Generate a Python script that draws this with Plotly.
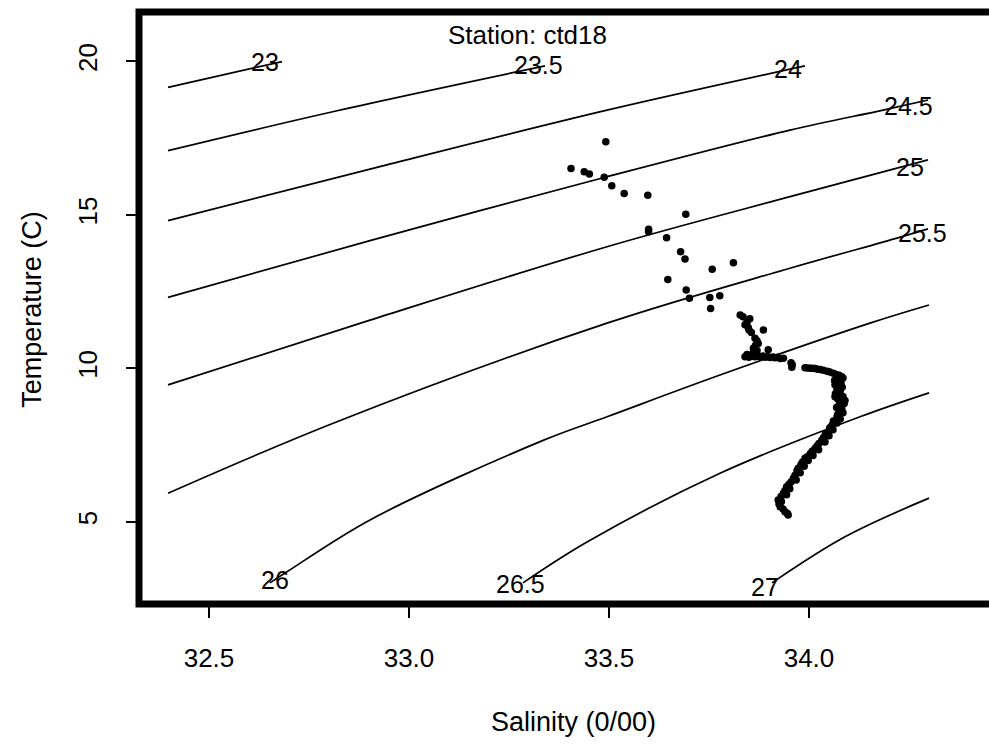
import plotly.graph_objects as go

# isopycnal lines (sigma-t)
levels = ["23", "23.5", "24", "24.5", "25", "25.5", "26", "26.5", "27"]
iso_s = [
    [32.3975, 32.6825],
    [32.3975, 32.82, 33.34],
    [32.3975, 32.9025, 33.495, 33.99],
    [32.3975, 32.9025, 33.495, 33.9525, 34.185, 34.2975],
    [32.3975, 32.9025, 33.495, 33.9525, 34.2975],
    [32.3975, 32.82, 33.495, 33.9525, 34.22, 34.2975],
    [32.6525, 32.695, 32.9025, 33.3368, 33.495, 33.7775, 34.1525, 34.3],
    [33.285, 33.445, 33.7775, 34.1275, 34.3],
    [33.9075, 34.09, 34.3],
]
iso_t = [
    [19.15, 19.99],
    [17.09, 18.39, 19.85],
    [14.81, 16.49, 18.41, 19.85],
    [12.31, 14.16, 16.24, 17.76, 18.41, 18.74],
    [9.46, 11.57, 13.96, 15.59, 16.79],
    [5.93, 8.26, 11.47, 13.26, 14.24, 14.54],
    [3.01, 3.37, 5.06, 7.66, 8.42, 9.78, 11.47, 12.06],
    [3.01, 4.34, 6.58, 8.42, 9.20],
    [3.01, 4.51, 5.77],
]
# where each contour label sits (salinity, temperature)
label_s = [32.64, 33.3225, 33.9475, 34.2475, 34.2525, 34.2825, 32.665, 33.2775, 33.89]
label_t = [19.98, 19.88, 19.75, 18.54, 16.56, 14.41, 3.11, 2.98, 2.88]

# CTD station samples
salinity = [
    33.492, 33.405, 33.438, 33.451, 33.488, 33.507, 33.538, 33.597, 33.692, 33.599,
    33.599, 33.644, 33.679, 33.690, 33.811, 33.758, 33.647, 33.693, 33.701, 33.752,
    33.777, 33.754,
    33.828, 33.835, 33.852, 33.845, 33.840, 33.848, 33.850, 33.856, 33.886, 33.865,
    33.870, 33.873, 33.866, 33.861, 33.898, 33.870, 33.860, 33.845, 33.840, 33.850,
    33.858, 33.865, 33.872, 33.878, 33.885, 33.890, 33.897, 33.903, 33.910, 33.915,
    33.921, 33.928, 33.936, 33.955, 33.958, 33.957, 33.990, 33.996, 34.003, 34.009,
    34.015, 34.022, 34.028, 34.036, 34.045, 34.052, 34.061, 34.068, 34.075, 34.081,
    34.085,
    34.070, 34.078, 34.064, 34.072, 34.080, 34.065, 34.073, 34.083, 34.070, 34.078,
    34.073, 34.066, 34.076, 34.085, 34.065, 34.072, 34.090, 34.080, 34.088, 34.075,
    34.069, 34.082, 34.077, 34.085, 34.072, 34.070, 34.078, 34.061, 34.070, 34.058,
    34.052, 34.060, 34.048, 34.041, 34.050, 34.036, 34.032, 34.040, 34.025, 34.020,
    34.015, 34.024, 34.008, 34.003, 34.010, 33.996, 33.990, 33.998, 33.984, 33.980,
    33.988, 33.973, 33.970, 33.978, 33.965, 33.961, 33.968, 33.955, 33.950, 33.944,
    33.952, 33.940, 33.936, 33.944, 33.930, 33.923, 33.931, 33.925, 33.928, 33.935,
    33.940, 33.946, 33.948,
]
temperature = [
    17.38, 16.51, 16.40, 16.33, 16.22, 15.95, 15.69, 15.64, 15.02, 14.53,
    14.45, 14.25, 13.80, 13.56, 13.44, 13.23, 12.89, 12.55, 12.28, 12.31,
    12.36, 11.95,
    11.74, 11.68, 11.61, 11.50, 11.42, 11.33, 11.25, 11.17, 11.25, 10.98,
    10.90, 10.81, 10.74, 10.65, 10.60, 10.58, 10.50, 10.45, 10.38, 10.36,
    10.40, 10.38, 10.42, 10.37, 10.40, 10.36, 10.38, 10.35, 10.37, 10.34,
    10.36, 10.32, 10.33, 10.18, 10.12, 10.03, 10.02, 10.01, 10.00, 10.00,
    9.99, 9.97, 9.96, 9.94, 9.90, 9.88, 9.84, 9.80, 9.77, 9.73,
    9.68,
    9.70, 9.64, 9.60, 9.55, 9.52, 9.46, 9.40, 9.38, 9.32, 9.26,
    9.24, 9.17, 9.12, 9.08, 9.07, 9.00, 8.95, 8.91, 8.85, 8.80,
    8.72, 8.68, 8.60, 8.55, 8.50, 8.42, 8.35, 8.28, 8.22, 8.15,
    8.06, 8.00, 7.93, 7.85, 7.80, 7.74, 7.66, 7.60, 7.55, 7.47,
    7.39, 7.35, 7.30, 7.22, 7.16, 7.12, 7.07, 7.00, 6.95, 6.87,
    6.81, 6.74, 6.66, 6.60, 6.52, 6.42, 6.36, 6.30, 6.22, 6.14,
    6.08, 6.02, 5.93, 5.88, 5.82, 5.71, 5.66, 5.58, 5.49, 5.42,
    5.33, 5.27, 5.22,
]

x_ticks = [32.5, 33.0, 33.5, 34.0]
y_ticks = [5, 10, 15, 20]

FONT = "Liberation Sans, Arial, Helvetica, sans-serif"

fig = go.Figure()
for s_vals, t_vals in zip(iso_s, iso_t):
    fig.add_trace(go.Scatter(
        x=s_vals, y=t_vals, mode="lines",
        line=dict(color="black", width=1.7, shape="spline", smoothing=1.0),
        hoverinfo="skip", showlegend=False,
    ))

fig.add_trace(go.Scatter(
    x=salinity, y=temperature, mode="markers",
    marker=dict(color="black", size=7.5),
    showlegend=False,
))

for lev, ls, lt in zip(levels, label_s, label_t):
    fig.add_annotation(x=ls, y=lt, text=lev, showarrow=False,
                       xanchor="center", yanchor="middle",
                       font=dict(size=25, color="black", family=FONT))

fig.add_annotation(xref="paper", yref="paper", x=0.4544, y=0.961, text="Station: ctd18",
                   xanchor="center", yanchor="middle", showarrow=False,
                   font=dict(size=26, color="black", family=FONT))
fig.add_annotation(xref="paper", yref="paper", x=0.508, y=-0.1993, text="Salinity (0/00)",
                   xanchor="center", yanchor="middle", showarrow=False,
                   font=dict(size=27, color="black", family=FONT))
fig.add_annotation(xref="paper", yref="paper", x=-0.125, y=0.497, text="Temperature (C)",
                   xanchor="center", yanchor="middle", textangle=-90, showarrow=False,
                   font=dict(size=27, color="black", family=FONT))

# heavy box on three sides, thin on the right like the scan
fig.add_shape(type="path", xref="paper", yref="paper",
              path="M 1,1 L 0,1 L 0,0 L 1,0", line=dict(color="black", width=7))
fig.add_shape(type="line", xref="paper", yref="paper", x0=0.9975, x1=0.9975, y0=0, y1=1,
              line=dict(color="black", width=2))

# the page body keeps its 8px margin, so the figure is a little smaller than the window
fig.update_layout(
    width=989,
    height=737,
    margin=dict(l=131, r=2, t=4, b=141),
    paper_bgcolor="white",
    plot_bgcolor="white",
    font=dict(family=FONT, color="black"),
    showlegend=False,
)
fig.update_xaxes(
    range=[32.325, 34.465], tickvals=x_ticks, tickformat=".1f",
    ticks="outside", ticklen=13, tickwidth=2, tickcolor="black",
    ticklabelstandoff=18, tickfont=dict(size=26),
    showgrid=False, zeroline=False, showline=False, automargin=False,
)
fig.update_yaxes(
    range=[2.322, 21.606], tickvals=y_ticks, tickangle=-90,
    ticks="outside", ticklen=12, tickwidth=2, tickcolor="black",
    ticklabelstandoff=19, tickfont=dict(size=26),
    showgrid=False, zeroline=False, showline=False, automargin=False,
)

fig.write_html("out.html")
